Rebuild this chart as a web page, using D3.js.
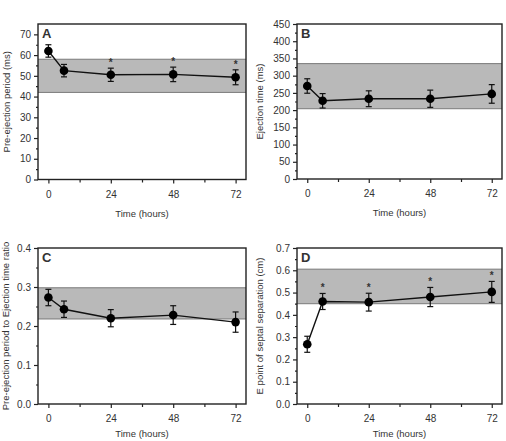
<!DOCTYPE html>
<html lang="en">
<head>
<meta charset="UTF-8">
<title>Echo timing panels</title>
<script src="https://d3js.org/d3.v7.min.js"></script>
<style>
  body { margin: 0; background: #fff; }
  text { font-family: "Liberation Sans", Arial, sans-serif; fill: #333; }
</style>
</head>
<body>
<div id="chart"></div>
<script>
// time points (hours)
var hours = [0, 6, 24, 48, 72];
var xTicks = [0, 24, 48, 72];
var xMinor = [12, 36, 60];

// panel A: pre-ejection period (ms)
var pepMean = [62, 52.5, 50.5, 50.7, 49.3];
var pepErr  = [3, 3, 3.2, 3.5, 3.6];
var pepStar = [false, false, true, true, true];
var pepBand = [42, 58];

// panel B: ejection time (ms)
var etMean = [270, 227, 233, 233, 247];
var etErr  = [21, 21, 23, 25, 27];
var etStar = [false, false, false, false, false];
var etBand = [204, 335];

// panel C: PEP / ET ratio
var ratioMean = [0.273, 0.243, 0.220, 0.228, 0.210];
var ratioErr  = [0.021, 0.021, 0.022, 0.024, 0.026];
var ratioStar = [false, false, false, false, false];
var ratioBand = [0.218, 0.298];

// panel D: E point of septal separation (cm)
var epssMean = [0.268, 0.46, 0.457, 0.48, 0.503];
var epssErr  = [0.036, 0.036, 0.04, 0.043, 0.047];
var epssStar = [false, true, true, true, true];
var epssBand = [0.45, 0.605];

var panels = [
  {id: "A", mean: pepMean, err: pepErr, star: pepStar, band: pepBand,
   yMax: 75, major: d3.range(0, 71, 10), minor: d3.range(5, 75, 10), fmt: d3.format("d"),
   label: "Pre-ejection period (ms)",
   box: {left: 38, right: 246, top: 24, bottom: 179.5}, labelX: 7},
  {id: "B", mean: etMean, err: etErr, star: etStar, band: etBand,
   yMax: 450, major: d3.range(0, 451, 50), minor: d3.range(25, 450, 50), fmt: d3.format("d"),
   label: "Ejection time (ms)",
   box: {left: 297, right: 502, top: 24, bottom: 179}, labelX: 260},
  {id: "C", mean: ratioMean, err: ratioErr, star: ratioStar, band: ratioBand,
   yMax: 0.4, major: [0, 0.1, 0.2, 0.3, 0.4], minor: [0.05, 0.15, 0.25, 0.35], fmt: d3.format(".1f"),
   label: "Pre-ejection period to Ejection time ratio",
   box: {left: 38, right: 246, top: 248, bottom: 404}, labelX: 6},
  {id: "D", mean: epssMean, err: epssErr, star: epssStar, band: epssBand,
   yMax: 0.7, major: [0, 0.1, 0.2, 0.3, 0.4, 0.5, 0.6, 0.7], minor: [0.05, 0.15, 0.25, 0.35, 0.45, 0.55, 0.65], fmt: d3.format(".1f"),
   label: "E point of septal separation (cm)",
   box: {left: 297, right: 502, top: 248, bottom: 404}, labelX: 260}
];

var svg = d3.select("#chart").append("svg")
  .attr("width", 506)
  .attr("height", 441);

panels.forEach(function(p) {
  var b = p.box;
  var x = d3.scaleLinear().domain([-4, 76]).range([b.left, b.right]);
  var y = d3.scaleLinear().domain([0, p.yMax]).range([b.bottom, b.top]);
  var g = svg.append("g");

  // reference range band
  g.append("rect")
    .attr("x", b.left).attr("width", b.right - b.left)
    .attr("y", y(p.band[1])).attr("height", y(p.band[0]) - y(p.band[1]))
    .attr("fill", "#b9b9b9");
  p.band.forEach(function(v) {
    g.append("line")
      .attr("x1", b.left).attr("x2", b.right)
      .attr("y1", y(v)).attr("y2", y(v))
      .attr("stroke", "#7a7a7a").attr("stroke-width", 1);
  });

  // y axis major + minor ticks
  g.append("g")
    .attr("transform", "translate(" + b.left + ",0)")
    .call(d3.axisLeft(y).tickValues(p.major).tickFormat(p.fmt).tickSize(4).tickPadding(3))
    .call(function(a) { a.select(".domain").remove(); });
  g.append("g")
    .attr("transform", "translate(" + b.left + ",0)")
    .call(d3.axisLeft(y).tickValues(p.minor).tickFormat("").tickSize(2))
    .call(function(a) { a.select(".domain").remove(); });

  // x axis
  g.append("g")
    .attr("transform", "translate(0," + b.bottom + ")")
    .call(d3.axisBottom(x).tickValues(xTicks).tickFormat(d3.format("d")).tickSize(4).tickPadding(7))
    .call(function(a) { a.select(".domain").remove(); });
  g.append("g")
    .attr("transform", "translate(0," + b.bottom + ")")
    .call(d3.axisBottom(x).tickValues(xMinor).tickFormat("").tickSize(3))
    .call(function(a) { a.select(".domain").remove(); });

  g.selectAll(".tick line").attr("stroke", "#222").attr("stroke-width", 1.2);
  g.selectAll(".tick text").style("font-size", "10px").attr("fill", "#333");

  // frame
  g.append("rect")
    .attr("x", b.left).attr("y", b.top)
    .attr("width", b.right - b.left).attr("height", b.bottom - b.top)
    .attr("fill", "none").attr("stroke", "#222").attr("stroke-width", 1.4);

  // data line
  var pts = hours.map(function(h, i) { return {h: h, m: p.mean[i], e: p.err[i], s: p.star[i]}; });
  g.append("path")
    .datum(pts)
    .attr("fill", "none").attr("stroke", "#111").attr("stroke-width", 1.4)
    .attr("d", d3.line().x(function(d) { return x(d.h); }).y(function(d) { return y(d.m); }));

  // error bars
  var eb = g.selectAll(".eb").data(pts).enter().append("g");
  eb.append("line")
    .attr("x1", function(d) { return x(d.h); }).attr("x2", function(d) { return x(d.h); })
    .attr("y1", function(d) { return y(d.m - d.e); }).attr("y2", function(d) { return y(d.m + d.e); })
    .attr("stroke", "#111").attr("stroke-width", 1.2);
  [-1, 1].forEach(function(sgn) {
    eb.append("line")
      .attr("x1", function(d) { return x(d.h) - 3; }).attr("x2", function(d) { return x(d.h) + 3; })
      .attr("y1", function(d) { return y(d.m + sgn * d.e); }).attr("y2", function(d) { return y(d.m + sgn * d.e); })
      .attr("stroke", "#111").attr("stroke-width", 1.2);
  });
  eb.append("circle")
    .attr("cx", function(d) { return x(d.h); }).attr("cy", function(d) { return y(d.m); })
    .attr("r", 4.3).attr("fill", "#000");

  // significance asterisks
  g.selectAll(".star").data(pts.filter(function(d) { return d.s; })).enter()
    .append("text")
    .attr("x", function(d) { return x(d.h); })
    .attr("y", function(d) { return y(d.m + d.e) - 2; })
    .attr("text-anchor", "middle")
    .style("font-size", "10px").style("font-weight", "bold")
    .attr("fill", "#444")
    .text("*");

  // panel letter
  g.append("text")
    .attr("x", b.left + 4).attr("y", b.top + 14)
    .style("font-size", "13px").style("font-weight", "bold").attr("fill", "#111")
    .text(p.id);

  // axis titles
  g.append("text")
    .attr("transform", "translate(" + p.labelX + "," + ((b.top + b.bottom) / 2) + ") rotate(-90)")
    .attr("text-anchor", "middle").attr("dy", "0.35em")
    .style("font-size", "9.5px")
    .text(p.label);
  g.append("text")
    .attr("x", (b.left + b.right) / 2).attr("y", Math.min(b.bottom + 37, 437))
    .attr("text-anchor", "middle")
    .style("font-size", "9.5px")
    .text("Time (hours)");
});
</script>
</body>
</html>
